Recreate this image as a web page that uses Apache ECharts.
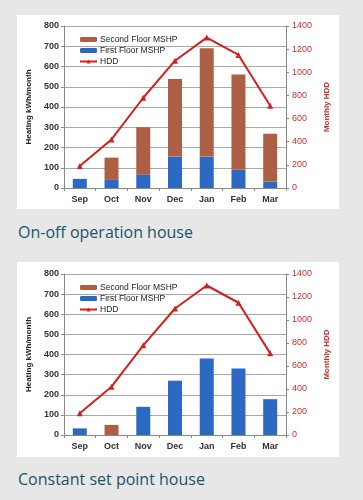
<!DOCTYPE html>
<html><head><meta charset="utf-8">
<script src="https://cdn.jsdelivr.net/npm/echarts@6/dist/echarts.min.js"></script>
<style>
html,body{margin:0;padding:0;background:#e7e7e7;width:363px;height:500px;overflow:hidden;}
.panel{position:absolute;left:17px;width:322px;background:#fff;}
.cap{position:absolute;left:18px;font-family:"Open Sans",sans-serif;font-size:16px;color:#1b5468;white-space:nowrap;}
</style></head>
<body>
<div id="c1" class="panel" style="top:15px;height:194px;"></div>
<div class="cap" style="top:221px;">On-off operation house</div>
<div id="c2" class="panel" style="top:262px;height:195px;"></div>
<div class="cap" style="top:468px;">Constant set point house</div>
<script>
const months = ["Sep","Oct","Nov","Dec","Jan","Feb","Mar"];
const hdd = [190, 420, 780, 1100, 1300, 1150, 710];
// On-off operation house
const onoffFirst = [45, 40, 65, 155, 155, 90, 32];
const onoffSecond = [0, 110, 235, 383, 535, 470, 236];
// Constant set point house
const constFirst = [33, 0, 140, 270, 380, 330, 178];
const constSecond = [0, 50, 0, 0, 0, 0, 0];
const leftTicks = {min:0, max:800, interval:100};
const rightTicks = {min:0, max:1400, interval:200};

const BROWN = "#ad5f45", BLUE = "#2c69c2", RED = "#d41f1f";
const FONT = "Liberation Sans";

function makeOption(first, second, top, bottom){
  return {
    animation:false,
    textStyle:{fontFamily:FONT},
    grid:{left:36, right:44, top:top, bottom:bottom},
    legend:{
      orient:'vertical', left:57, top:top+4, itemGap:2, itemWidth:17, itemHeight:5,
      textStyle:{fontFamily:FONT, fontSize:8.5, color:'#222', padding:[0,0,0,-2]},
      data:['Second Floor MSHP','First Floor MSHP','HDD']
    },
    xAxis:{
      type:'category', data:months,
      axisLine:{lineStyle:{color:'#888'}},
      axisTick:{show:true, alignWithLabel:false, length:3, lineStyle:{color:'#888'}},
      axisLabel:{fontSize:9, color:'#333', fontWeight:'bold', margin:7}
    },
    yAxis:[{
      type:'value', min:leftTicks.min, max:leftTicks.max, interval:leftTicks.interval,
      name:'Heating kWh/month', nameLocation:'middle', nameGap:27,
      nameTextStyle:{fontSize:8, fontWeight:'bold', color:'#222'},
      axisLine:{show:true, lineStyle:{color:'#888'}},
      axisTick:{show:true, length:3, lineStyle:{color:'#888'}},
      axisLabel:{fontSize:9, color:'#333', fontWeight:'bold', margin:5},
      splitLine:{lineStyle:{color:'#a8a8a8'}}
    },{
      type:'value', min:rightTicks.min, max:rightTicks.max, interval:rightTicks.interval,
      name:'Monthly HDD', nameLocation:'middle', nameGap:36, nameRotate:90,
      nameTextStyle:{fontSize:8, fontWeight:'bold', color:'#c8322a'},
      axisLine:{show:true, lineStyle:{color:'#888'}},
      axisTick:{show:true, length:3, lineStyle:{color:'#888'}},
      axisLabel:{fontSize:9, color:'#c8322a', margin:6, formatter:function(v){return String(v);}},
      splitLine:{show:false}
    }],
    series:[
      {name:'First Floor MSHP', type:'bar', stack:'s', data:first, barWidth:14, itemStyle:{color:BLUE}},
      {name:'Second Floor MSHP', type:'bar', stack:'s', data:second, barWidth:14, itemStyle:{color:BROWN}},
      {name:'HDD', type:'line', yAxisIndex:1, data:hdd, symbol:'triangle', symbolSize:6,
       lineStyle:{color:RED, width:2}, itemStyle:{color:RED}}
    ]
  };
}
const ch1 = echarts.init(document.getElementById('c1'));
ch1.setOption(makeOption(onoffFirst, onoffSecond, 11, 21));
const ch2 = echarts.init(document.getElementById('c2'));
ch2.setOption(makeOption(constFirst, constSecond, 12, 22));
</script>
</body></html>
